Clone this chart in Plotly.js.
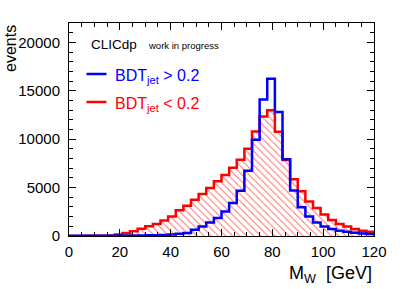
<!DOCTYPE html>
<html>
<head>
<meta charset="utf-8">
<script src="https://cdn.plot.ly/plotly-3.0.1.min.js"></script>
<style>html,body{margin:0;padding:0;background:#fff;}#chart{width:407px;height:289px;}</style>
</head>
<body>
<div id="chart"></div>
<script>
// bin low edges (GeV), bin width 3 GeV, upper edge 120
const binLow = [0,3,6,9,12,15,18,21,24,27,30,33,36,39,42,45,48,51,54,57,
                60,63,66,69,72,75,78,81,84,87,90,93,96,99,102,105,108,111,114,117];
const xMax = 120;
// BDT_jet > 0.2 (blue)
const bdtHigh = [30,30,30,30,30,35,40,45,50,60,70,90,110,150,220,320,650,990,1400,1850,
                 2530,3400,4680,6750,9950,14090,16250,12820,7920,4690,2960,2020,1400,990,720,545,440,340,270,210];
// BDT_jet < 0.2 (red, hatched)
const bdtLow = [10,10,15,20,30,60,150,300,500,750,1000,1250,1600,2020,2650,3130,3740,4330,4950,5650,
                6300,7060,7870,9000,10800,12330,13000,10760,7850,5860,4620,3560,2880,2220,1650,1230,990,720,545,440];

function stepX(){ return binLow.concat([xMax]); }
function stepY(v){ return v.concat([v[v.length-1]]); }

const font = "Liberation Sans, Arial, Helvetica, sans-serif";

const traces = [
  {
    x: stepX(), y: stepY(bdtLow), type: 'scatter', mode: 'lines',
    line: {shape: 'hv', color: '#ff0000', width: 2.5},
    fill: 'tozeroy', fillcolor: 'rgba(0,0,0,0)',
    fillpattern: {shape: '\\', fgcolor: 'rgba(255,60,60,0.75)', bgcolor: 'rgba(0,0,0,0)', size: 5, solidity: 0.2},
    hoverinfo: 'skip', showlegend: false
  },
  {
    x: stepX(), y: stepY(bdtHigh), type: 'scatter', mode: 'lines',
    line: {shape: 'hv', color: '#0000ff', width: 2.5},
    hoverinfo: 'skip', showlegend: false
  }
];

const L = 69, T = 23, W = 305, H = 213;
function px(x){ return (x - L) / W; }
function py(y){ return (T + H - y) / H; }

const layout = {
  width: 407, height: 289,
  margin: {l: L, r: 407 - L - W, t: T, b: 289 - T - H},
  paper_bgcolor: '#fff', plot_bgcolor: '#fff',
  showlegend: false,
  xaxis: {
    range: [0, 120], dtick: 20, tick0: 0,
    ticks: 'inside', ticklen: 7, tickwidth: 1, tickcolor: '#000',
    showline: true, linecolor: '#000', linewidth: 1, mirror: 'ticks',
    showgrid: false, zeroline: false,
    minor: {dtick: 5, ticks: 'inside', ticklen: 4, tickcolor: '#000', showgrid: false},
    tickfont: {family: font, size: 15, color: '#000'},
    ticklabelstandoff: 2
  },
  yaxis: {
    range: [0, 22000], dtick: 5000, tick0: 0, tickformat: 'd',
    ticks: 'inside', ticklen: 7, tickwidth: 1, tickcolor: '#000',
    showline: true, linecolor: '#000', linewidth: 1, mirror: 'ticks',
    showgrid: false, zeroline: false,
    minor: {dtick: 1000, ticks: 'inside', ticklen: 4, tickcolor: '#000', showgrid: false},
    tickfont: {family: font, size: 15, color: '#000'},
    ticklabelstandoff: 5
  },
  shapes: [
    {type: 'line', xref: 'paper', yref: 'paper', x0: px(86.5), x1: px(106.5), y0: py(74), y1: py(74),
     line: {color: '#0000ff', width: 2.5}},
    {type: 'line', xref: 'paper', yref: 'paper', x0: px(86.5), x1: px(106.5), y0: py(102), y1: py(102),
     line: {color: '#ff0000', width: 2.5}}
  ],
  annotations: [
    {xref: 'paper', yref: 'paper', x: px(89), y: py(44.5), xanchor: 'left', yanchor: 'middle', showarrow: false,
     text: 'CLICdp', font: {family: font, size: 13.5, color: '#000'}},
    {xref: 'paper', yref: 'paper', x: px(146), y: py(45.5), xanchor: 'left', yanchor: 'middle', showarrow: false,
     text: 'work in progress', font: {family: font, size: 9.5, color: '#000'}},
    {xref: 'paper', yref: 'paper', x: px(113), y: py(76), xanchor: 'left', yanchor: 'middle', showarrow: false,
     text: 'BDT<sub>jet</sub> &gt; 0.2', font: {family: font, size: 16, color: '#0000ff'}},
    {xref: 'paper', yref: 'paper', x: px(113), y: py(104), xanchor: 'left', yanchor: 'middle', showarrow: false,
     text: 'BDT<sub>jet</sub> &lt; 0.2', font: {family: font, size: 16, color: '#ff0000'}},
    {xref: 'paper', yref: 'paper', x: 1, y: py(261), xanchor: 'right', yanchor: 'top', showarrow: false,
     text: 'M<sub>W</sub>  [GeV]', font: {family: font, size: 18, color: '#000'}},
    {xref: 'paper', yref: 'paper', x: px(0), y: 1.0, xanchor: 'left', yanchor: 'top', showarrow: false,
     textangle: -90, text: 'events', font: {family: font, size: 16, color: '#000'}}
  ]
};

Plotly.newPlot('chart', traces, layout, {staticPlot: true, displayModeBar: false});
</script>
</body>
</html>
